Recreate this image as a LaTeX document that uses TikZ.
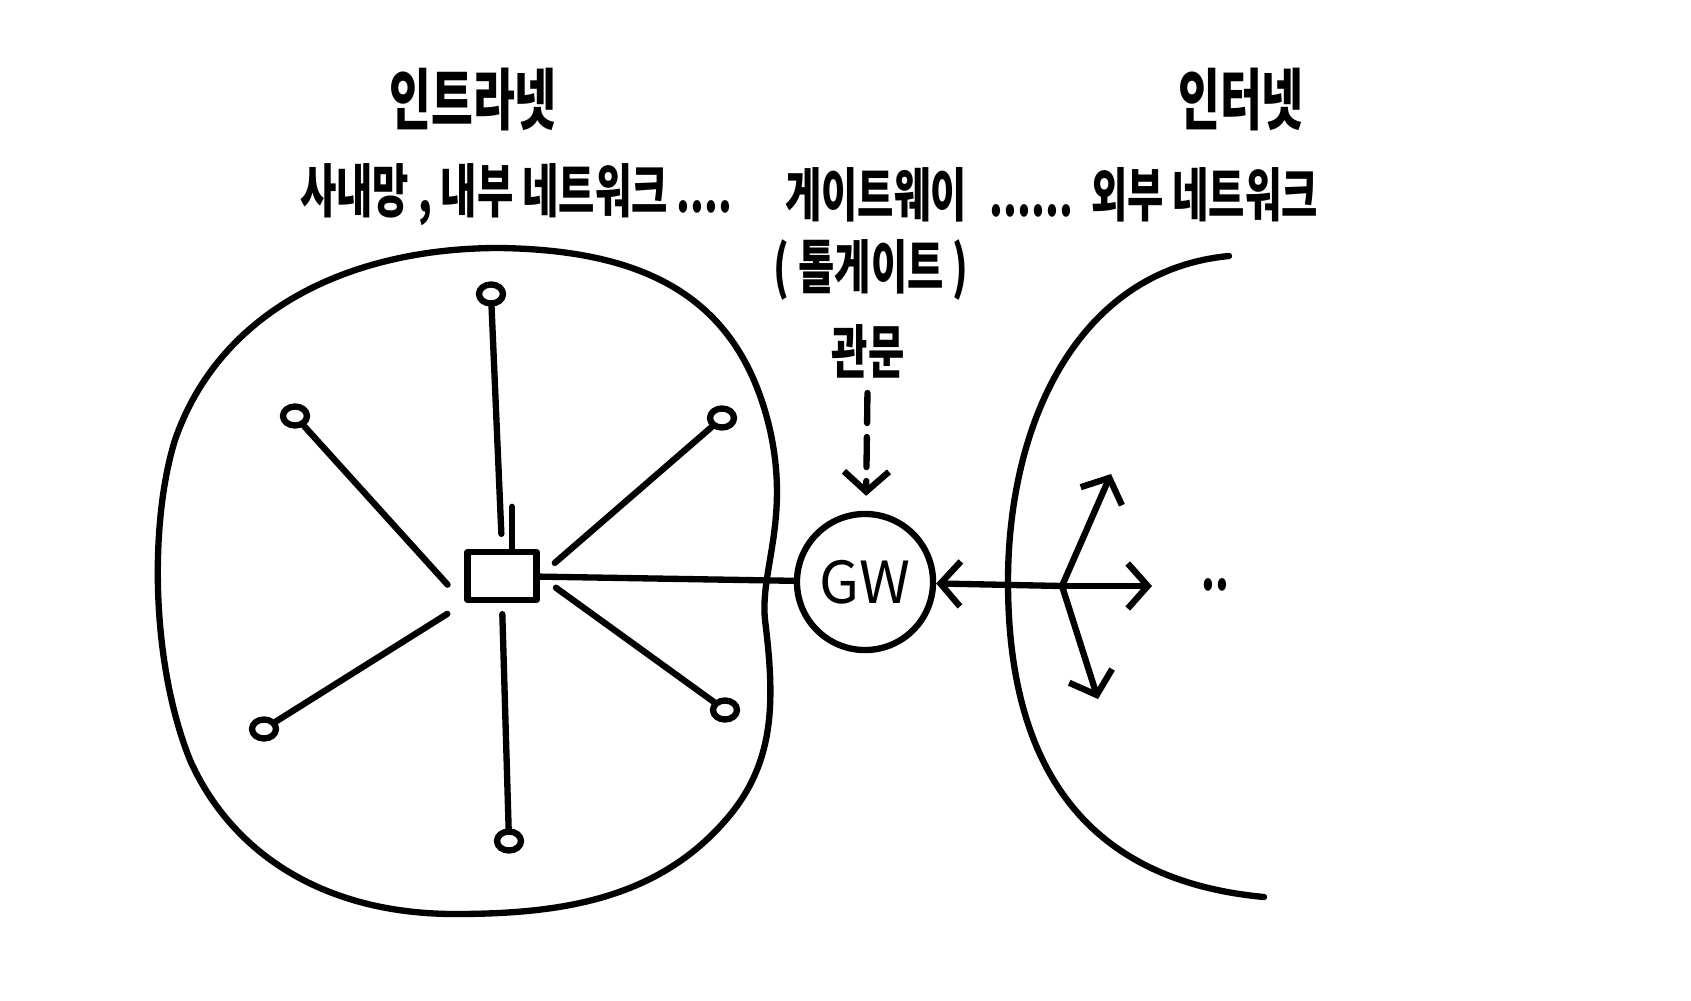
\documentclass[tikz,border=0pt]{standalone}
\usepackage{fontspec}
\newfontfamily\hand[FakeStretch=0.68]{Noto Sans CJK KR}
\newfontfamily\gwfont{Noto Sans CJK KR}
\usetikzlibrary{positioning, shapes.geometric, arrows.meta}

\begin{document}
\begin{tikzpicture}[x=0.01cm, y=-0.01cm, line width=1.8pt, line cap=round, line join=round,
  txt/.style={font=\hand\bfseries\fontsize{16.5}{18}\selectfont, inner sep=0pt},
  head/.style={font=\hand\bfseries\fontsize{19}{21}\selectfont, inner sep=0pt},
  leaf/.style={draw, ellipse, minimum width=2.4mm, minimum height=1.9mm, inner sep=0pt},
  arrow/.style={-{Straight Barb[length=2mm, width=4.5mm]}}]
  \useasboundingbox (0,0) rectangle (1691,1000);
  \node[head] (intra) at (473,100) {인트라넷};
  \node[head] (inter) at (1241,100) {인터넷};
  \node[txt, anchor=west] (inner) at (297,195) {사내망 , 내부 네트워크 ....};
  \node[txt] (gwname) at (876,195) {게이트웨이};
  \node[txt, anchor=east] (outer) at (1321,195) {......\ \ 외부 네트워크};
  \node[txt] (toll) at (871,270) {( 톨게이트 )};
  \node[txt] (gate) at (868,351) {관문};

  \draw (499,248) .. controls (650,250) and (740,300) .. (770,430)
    .. controls (790,520) and (760,570) .. (765,620)
    .. controls (775,700) and (775,760) .. (730,815)
    .. controls (660,900) and (560,914) .. (455,914)
    .. controls (320,914) and (230,850) .. (190,760)
    .. controls (150,660) and (150,520) .. (175,440)
    .. controls (220,310) and (350,248) .. (499,248) -- cycle;
  \draw (1229,256) .. controls (1080,270) and (1008,420) .. (1008,582)
    .. controls (1008,760) and (1080,880) .. (1264,897);

  \node[draw, minimum width=0.69cm, minimum height=0.48cm, inner sep=0pt] (hub) at (502,576) {};
  \node[draw, circle, minimum size=1.36cm, inner sep=0pt, font=\gwfont\fontsize{16.5}{18}\selectfont] (gw) at (865,582) {GW};
  \node[leaf] (lt) at (491,294) {};
  \node[leaf] (lul) at (295,416) {};
  \node[leaf] (lur) at (722,418) {};
  \node[leaf] (lll) at (264,729) {};
  \node[leaf] (llr) at (725,710) {};
  \node[leaf] (lb) at (509,841) {};

  \draw[shorten >=1.5mm] (lt) -- (hub.north);
  \draw[shorten >=2.5mm] (lul) -- (hub.south west);
  \draw[shorten >=2mm] (lur) -- (hub.east);
  \draw[shorten >=2mm] (lll) -- (hub.south west);
  \draw[shorten >=2mm] (llr) -- (hub.east);
  \draw[shorten >=1.1mm] (lb) -- (hub.south);
  \draw ([xshift=1mm]hub.north) -- ++(0,-42);
  \draw (hub) -- (gw);

  \coordinate (br) at (1062,586);
  \coordinate (east) at (1152,586);
  \coordinate (ne) at (1111,474);
  \coordinate (se) at (1098,699);
  \draw[arrow] (br) -- (gw);
  \draw[arrow] (br) -- (east);
  \draw[arrow] (br) -- (ne);
  \draw[arrow] (br) -- (se);
  \node[txt] (more) at (1215,585) {..};
  \draw[arrow, dash pattern=on 3mm off 1.4mm, shorten <=1.2mm, shorten >=1.5mm] (gate) -- (gw);
\end{tikzpicture}
\end{document}
